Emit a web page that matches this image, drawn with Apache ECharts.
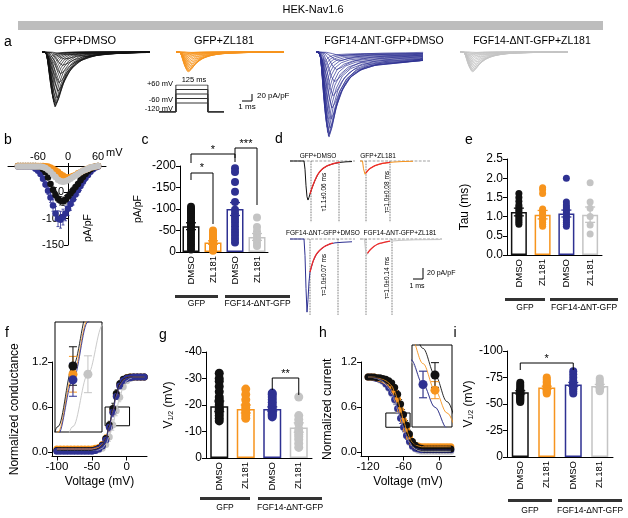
<!DOCTYPE html>
<html><head><meta charset="utf-8">
<script src="https://cdn.jsdelivr.net/npm/echarts@6/dist/echarts.min.js"></script>
<style>html,body{margin:0;padding:0;background:#fff}#c{width:628px;height:518px}</style>
</head><body><div id="c"></div>
<script>
// ================= DATA =================
const title = 'HEK-Nav1.6';
const groupLabels = ['GFP', 'FGF14-ΔNT-GFP'];
const catLabels = ['DMSO', 'ZL181', 'DMSO', 'ZL181'];
const catIds = ['c1', 'c2', 'c3', 'c4'];
const traceLabels = ['GFP+DMSO', 'GFP+ZL181', 'FGF14-ΔNT-GFP+DMSO', 'FGF14-ΔNT-GFP+ZL181'];

// a: sweep families (normalized template, per-sweep peaks and time-to-peak)
const sweepTemplateT = [0, 0.35, 0.6, 0.8, 1.0, 1.25, 1.6, 2.1, 2.8, 3.8, 5.2, 7.5, 11];
const sweepTemplateV = [0, 0.08, 0.4, 0.8, 1.0, 0.88, 0.62, 0.38, 0.2, 0.09, 0.04, 0.015, 0.005];
const sweepTemplatePersistV = [0, 0.1, 0.45, 0.82, 1.0, 0.9, 0.68, 0.48, 0.32, 0.22, 0.16, 0.13, 0.11];
const sweepTimeToPeak = [2.3, 2.0, 1.8, 1.6, 1.45, 1.35, 1.25, 1.17, 1.1, 1.05, 1.0, 0.92, 0.85, 0.78, 0.72, 0.66, 0.6, 0.55, 0.5, 0.46, 0.42, 0.38];
const blackSweepPeaks = [-8, -20, -38, -62, -88, -112, -132, -147, -155, -157, -152, -143, -132, -120, -107, -94, -81, -68, -56, -45, -35, -26];
const orangeSweepPeaks = [-3, -7, -13, -20, -27, -34, -41, -47, -52, -55, -57, -56, -53, -49, -45, -40, -35, -30, -25, -20, -15, -11];
const blueSweepPeaks = [-10, -25, -50, -85, -125, -160, -192, -218, -235, -243, -240, -230, -215, -198, -180, -160, -140, -120, -100, -80, -62, -45];
const greySweepPeaks = [-3, -8, -14, -21, -28, -35, -42, -48, -53, -56, -57, -55, -52, -48, -44, -40, -35, -30, -25, -20, -16, -12];
const blueTailFrac = 0.1;

// a: voltage protocol
const protoLevels = [60, 30, 0, -30, -60];
const protoHold = -120;
const protoTimes = [0, 66, 191, 254];

// b: I-V
const ivVoltage = [-100,-95,-90,-85,-80,-75,-70,-65,-60,-55,-50,-45,-40,-35,-30,-25,-20,-15,-10,-5,0,5,10,15,20,25,30,35,40,45,50,55,60];
const ivBlack = [0,0,0,0,0,0,0,0,-1,-2,-6,-12,-22,-34,-45,-55,-62,-66,-67,-64,-58,-52,-46,-40,-34,-27,-21,-15,-10,-6,-3,-1,0];
const ivOrange = [0,0,0,0,0,0,0,0,0,0,0,-0.5,-1,-3,-5,-8,-11,-15,-18,-21,-22,-21,-19,-17,-14,-12,-9,-7,-5,-3,-2,-1,0];
const ivBlue = [-1,-1,-1,-1,-1,-1,-2,-5,-9,-15,-24,-35,-47,-60,-75,-90,-100,-102,-97,-90,-81,-72,-63,-54,-46,-38,-30,-23,-17,-11,-6,-3,-1];
const ivGrey = [-1,-1,-1,-1,-1,-1,-1,-1,-1,-1,-2,-4,-7,-11,-16,-21,-26,-29,-30,-29,-27,-24,-21,-18,-15,-12,-9,-7,-5,-3,-2,-1,0];
const ivBlackSem = [0.5,0.5,0.5,0.5,0.5,0.5,0.5,0.5,0.5,0.5,1,2,3,4,5,6,7,8,8,8,7,7,6,5,5,4,3,2,2,1,1,0.5,0.5];
const ivOrangeSem = [0,0,0,0,0,0,0,0,0,0,0,0,0.5,1,1,1.5,2,2.5,3,3,3,3,3,3,2.5,2,2,1.5,1,1,0.5,0.5,0];
const ivBlueSem = [0.5,0.5,0.5,0.5,0.5,0.5,1,1,2,3,4,5,7,9,11,13,15,16,15,14,13,12,11,10,9,8,7,6,5,4,3,2,1];
const ivGreySem = [0.5,0.5,0.5,0.5,0.5,0.5,0.5,0.5,0.5,0.5,0.5,1,1.5,2,3,3.5,4,4,4,4,4,3.5,3,3,2.5,2,2,1.5,1,1,0.5,0.5,0];

// c: peak current density (pA/pF)
const cPoints = [
  [-105,-100,-97,-95,-92,-90,-85,-80,-75,-72,-68,-63,-58,-52,-47,-42,-36,-30,-24,-18,-12,-6],
  [-50,-45,-40,-36,-32,-28,-25,-22,-19,-16,-13,-10,-8,-5,-3],
  [-195,-186,-163,-140,-116,-98,-90,-82,-75,-68,-60,-52,-45,-38,-30,-22],
  [-80,-58,-48,-40,-33,-27,-20,-14]
];
const cMeans = [-60, -22, -100, -35];
const cSems = [8, 4, 15, 8];

// d: representative traces with fits
const dTraceGfpDmso = [[0,0],[1.4,0],[1.5,-15],[1.6,-45],[1.7,-65],[1.8,-71],[1.9,-66],[2.0,-60],[2.2,-49],[2.5,-35],[2.8,-24],[3.2,-15],[3.7,-9],[4.3,-5],[5,-2.5],[5.6,-1.5],[6.2,-1]];
const dFitGfpDmso = [[2.0,-60],[2.2,-49],[2.5,-35],[2.8,-24],[3.2,-15],[3.7,-9],[4.3,-5],[5.0,-2.5]];
const dTraceGfpZl = [[0,0],[0.25,0],[0.35,-14],[0.5,-24],[0.6,-22],[0.8,-17],[1.1,-12.5],[1.5,-8.5],[2.0,-5.5],[2.6,-3.5],[3.3,-2],[4.2,-1],[5.3,-0.5]];
const dFitGfpZl = [[0.6,-22],[0.8,-17],[1.1,-12.5],[1.5,-8.5],[2.0,-5.5],[2.6,-3.5],[3.0,-2.6]];
const dTraceFgfDmso = [[0,0],[1.4,0],[1.5,-30],[1.6,-90],[1.7,-133],[1.8,-110],[1.9,-78],[2.0,-60],[2.3,-41],[2.6,-29],[3.0,-20],[3.5,-13],[4.0,-9],[4.5,-7],[5.2,-6],[6.2,-5]];
const dFitFgfDmso = [[2.0,-60],[2.3,-41],[2.6,-29],[3.0,-20],[3.5,-13],[4.0,-9],[4.3,-7.5]];
const dTraceFgfZl = [[0,0],[0.45,0],[0.55,-20],[0.65,-29],[0.75,-26],[1.0,-20],[1.3,-15],[1.7,-10],[2.2,-7],[3.0,-4],[4,-2.5],[5.5,-1.5],[8,-1]];
const dFitFgfZl = [[0.75,-26],[1.0,-20],[1.3,-15],[1.7,-10],[2.2,-7],[3.0,-4]];
const dFitWindows = [[2.1, 4.9], [0.6, 3.0], [2.0, 4.8], [0.6, 3.2]];
const tauLabels = ['τ1.1±0.06 ms', 'τ=1.0±0.08 ms', 'τ=1.0±0.07 ms', 'τ=1.0±0.14 ms'];

// e: tau (ms)
const ePoints = [
  [1.6,1.5,1.4,1.3,1.25,1.2,1.15,1.1,1.05,1.0,0.95,0.9,0.85,0.8],
  [1.75,1.7,1.6,1.2,1.15,1.1,1.05,1.0,0.95,0.9,0.85,0.8,0.75],
  [2.0,1.38,1.3,1.25,1.2,1.15,1.1,1.05,1.0,0.95,0.9,0.85,0.8,0.75],
  [1.88,1.38,1.22,1.0,0.78,0.55]
];
const eMeans = [1.12, 1.05, 1.08, 1.05];
const eSems = [0.1, 0.11, 0.09, 0.2];

// f: conductance-voltage
const gvVoltage = [-100,-95,-90,-85,-80,-75,-70,-65,-60,-55,-50,-45,-40,-35,-30,-25,-20,-15,-10,-5,0,5,10,15,20,25];
const gvBlack = [0.02,0.02,0.02,0.02,0.02,0.02,0.02,0.02,0.02,0.02,0.02,0.03,0.05,0.09,0.18,0.36,0.58,0.78,0.91,0.97,0.99,1,1,1,1,1];
const gvOrange = [0.04,0.04,0.04,0.04,0.04,0.04,0.04,0.04,0.04,0.04,0.04,0.05,0.06,0.1,0.18,0.34,0.55,0.75,0.89,0.96,0.99,1,1,1,1,1];
const gvBlue = [0.01,0.01,0.01,0.01,0.01,0.01,0.01,0.01,0.01,0.01,0.01,0.02,0.04,0.08,0.16,0.33,0.53,0.74,0.88,0.95,0.98,0.99,1,1,1,1];
const gvGrey = [0.02,0.02,0.02,0.02,0.02,0.02,0.02,0.02,0.02,0.02,0.02,0.02,0.03,0.05,0.1,0.2,0.36,0.55,0.73,0.87,0.95,0.98,1,1,1,1];
const gvBlackSem = [0.01,0.01,0.01,0.01,0.01,0.01,0.01,0.01,0.01,0.01,0.01,0.01,0.02,0.03,0.04,0.05,0.07,0.05,0.04,0.03,0.02,0.01,0.01,0.01,0.01,0.01];
const gvOrangeSem = [0.015,0.015,0.015,0.015,0.015,0.015,0.015,0.015,0.015,0.015,0.015,0.02,0.02,0.03,0.05,0.06,0.065,0.05,0.04,0.03,0.02,0.01,0.01,0.01,0.01,0.01];
const gvBlueSem = [0.01,0.01,0.01,0.01,0.01,0.01,0.01,0.01,0.01,0.01,0.01,0.01,0.02,0.03,0.04,0.05,0.06,0.04,0.03,0.02,0.01,0.01,0.01,0.01,0.01,0.01];
const gvGreySem = [0.015,0.015,0.015,0.015,0.015,0.015,0.015,0.015,0.015,0.015,0.015,0.015,0.02,0.03,0.04,0.06,0.07,0.067,0.06,0.04,0.03,0.02,0.01,0.01,0.01,0.01];

// g: activation V1/2 (mV)
const gPoints = [
  [-32,-30,-29,-27,-25,-23,-22,-21,-20,-19,-18.5,-18,-17,-16,-15,-14],
  [-26,-24,-22,-20,-19,-18,-17,-16,-15],
  [-24.5,-24,-23,-22,-21,-20,-19,-18,-17.5,-17,-16.5,-16,-15.5],
  [-23,-16,-14.5,-13,-11,-10,-9,-8,-7,-5.5,-4]
];
const gMeans = [-19.5, -18.5, -18.5, -11.5];
const gSems = [2, 1.5, 0.8, 1.8];

// h: steady-state inactivation
const ssiVoltage = [-120,-115,-110,-105,-100,-95,-90,-85,-80,-75,-70,-65,-60,-55,-50,-45,-40,-35,-30,-25,-20,-15,-10,-5,0,5,10,15,20];
const ssiBlack = [1,1,1,0.99,0.99,0.98,0.97,0.95,0.92,0.86,0.77,0.64,0.5,0.36,0.24,0.14,0.09,0.06,0.05,0.04,0.04,0.04,0.04,0.04,0.04,0.04,0.04,0.04,0.04];
const ssiOrange = [1,1,1,0.99,0.98,0.97,0.95,0.92,0.88,0.8,0.7,0.56,0.42,0.3,0.2,0.13,0.09,0.08,0.07,0.07,0.07,0.07,0.07,0.07,0.07,0.07,0.07,0.07,0.07];
const ssiBlue = [1,1,0.99,0.98,0.97,0.95,0.91,0.86,0.79,0.7,0.58,0.45,0.33,0.22,0.14,0.08,0.05,0.04,0.03,0.03,0.03,0.03,0.03,0.03,0.03,0.03,0.03,0.03,0.03];
const ssiGrey = [1,1,0.99,0.98,0.96,0.94,0.9,0.85,0.78,0.69,0.57,0.45,0.33,0.22,0.13,0.07,0.04,0.02,0.01,0.01,0.01,0.01,0.01,0.01,0.01,0.01,0.01,0.01,0.01];
const ssiBlackSem = [0.01,0.01,0.01,0.01,0.01,0.01,0.02,0.02,0.03,0.04,0.05,0.06,0.065,0.06,0.05,0.04,0.03,0.02,0.02,0.02,0.02,0.02,0.02,0.02,0.02,0.02,0.02,0.02,0.02];
const ssiOrangeSem = [0.01,0.01,0.01,0.01,0.01,0.02,0.02,0.03,0.03,0.04,0.05,0.05,0.045,0.04,0.04,0.03,0.02,0.02,0.02,0.02,0.02,0.02,0.02,0.02,0.02,0.02,0.02,0.02,0.02];
const ssiBlueSem = [0.01,0.01,0.01,0.02,0.02,0.03,0.03,0.04,0.05,0.06,0.06,0.07,0.06,0.05,0.04,0.03,0.02,0.02,0.02,0.02,0.02,0.02,0.02,0.02,0.02,0.02,0.02,0.02,0.02];
const ssiGreySem = [0.01,0.01,0.01,0.02,0.02,0.03,0.03,0.04,0.05,0.06,0.06,0.07,0.06,0.05,0.04,0.03,0.02,0.02,0.01,0.01,0.01,0.01,0.01,0.01,0.01,0.01,0.01,0.01,0.01];

// i: inactivation V1/2 (mV)
const iPoints = [
  [-70,-68,-66,-64,-63,-62,-61,-60,-59,-58,-57,-56,-55,-54,-53,-52],
  [-75,-73,-71,-70,-68,-67,-66,-65,-64,-63,-62,-61,-60],
  [-81,-78,-75,-72,-70,-69,-68,-67,-66,-65,-64,-62,-60],
  [-74,-72,-70,-68,-66,-65,-64,-63,-62]
];
const iMeans = [-61, -65.5, -68.5, -67];
const iSems = [1.5, 1.3, 1.8, 1.5];

// ================= STYLE / BUILD =================
const FONT = "'Liberation Sans', Arial, Helvetica, sans-serif";
const COL = {black: '#111111', orange: '#F7941D', blue: '#2E3192', grey: '#C4C4C4', red: '#EE2A2A'};
const COLS = [COL.black, COL.orange, COL.blue, COL.grey];

const grids = [], xAxes = [], yAxes = [], series = [];

function setGrid(gi, l, t, w, h, extra) {
  grids[gi] = Object.assign({left: l, top: t, width: w, height: h, containLabel: false, outerBoundsMode: 'none'}, extra || {});
}
function hiddenAxes(gi, xmin, xmax, ymin, ymax) {
  xAxes[gi] = {type: 'value', gridIndex: gi, min: xmin, max: xmax, show: false};
  yAxes[gi] = {type: 'value', gridIndex: gi, min: ymin, max: ymax, show: false};
}
const axLine = {show: true, onZero: false, lineStyle: {color: '#000', width: 1}};
const axTick = {show: true, length: 4, inside: false, lineStyle: {color: '#000', width: 1}};

function errSeries(gi, data, colors, capW, lw, z, clip) {
  return {
    type: 'custom', xAxisIndex: gi, yAxisIndex: gi, z: z, silent: true, clip: !!clip,
    encode: {x: 0, y: 1},
    renderItem: function (params, api) {
      const x = api.value(0), y = api.value(1), e = api.value(2), c = colors[api.value(3)];
      const a = api.coord([x, y - e]), b = api.coord([x, y + e]);
      const st = {stroke: c, lineWidth: lw};
      return {type: 'group', children: [
        {type: 'line', shape: {x1: a[0], y1: a[1], x2: b[0], y2: b[1]}, style: st},
        {type: 'line', shape: {x1: a[0] - capW, y1: a[1], x2: a[0] + capW, y2: a[1]}, style: st},
        {type: 'line', shape: {x1: b[0] - capW, y1: b[1], x2: b[0] + capW, y2: b[1]}, style: st}
      ]};
    },
    data: data
  };
}

// ---- a: sweep families ----
function buildSweeps(peaks, tmplV, tailFrac, delay, tEnd) {
  return peaks.map(function (a, k) {
    const pts = [[0, 0]];
    for (let i = 0; i < sweepTemplateT.length; i++) {
      const t = delay + sweepTemplateT[i] * sweepTimeToPeak[k];
      if (t < tEnd) pts.push([t, a * tmplV[i]]);
    }
    pts.push([tEnd, a * tailFrac]);
    return {coords: pts};
  });
}
const aRects = [[42, 108], [176, 108], [316, 107], [460, 108]];
const aFamilies = [
  buildSweeps(blackSweepPeaks, sweepTemplateV, 0, 0.25, 10.8),
  buildSweeps(orangeSweepPeaks, sweepTemplateV, 0, 0.25, 10.8),
  buildSweeps(blueSweepPeaks, sweepTemplatePersistV, blueTailFrac, 0.25, 10.7),
  buildSweeps(greySweepPeaks, sweepTemplateV, 0, 0.25, 10.8)
];
aRects.forEach(function (r, k) {
  setGrid(k, r[0], 47.8, r[1], 91.7);
  hiddenAxes(k, 0, r[1] / 10, -250, 12);
  series.push({type: 'lines', coordinateSystem: 'cartesian2d', xAxisIndex: k, yAxisIndex: k, polyline: true,
    silent: true, lineStyle: {color: COLS[k], width: 0.7, opacity: 1, curveness: 0}, data: aFamilies[k]});
});

// ---- a: protocol (grid 4) ----
setGrid(4, 159, 85, 65, 27);
hiddenAxes(4, protoTimes[0], protoTimes[3], protoHold, 60);
series.push({type: 'lines', coordinateSystem: 'cartesian2d', xAxisIndex: 4, yAxisIndex: 4, polyline: true, silent: true,
  lineStyle: {color: '#333', width: 1, opacity: 1},
  data: protoLevels.map(function (v) {
    return {coords: [[protoTimes[0], protoHold], [protoTimes[1], protoHold], [protoTimes[1], v], [protoTimes[2], v], [protoTimes[2], protoHold], [protoTimes[3], protoHold]]};
  })});

// ---- b: I-V (grid 5) ----
setGrid(5, 8, 166, 98, 79);
xAxes[5] = {type: 'value', gridIndex: 5, min: -120, max: 76, position: 'top',
  axisLine: {show: true, onZero: false, lineStyle: {color: '#000', width: 1}},
  axisTick: {show: true, length: 3, customValues: [-60, 0, 60], lineStyle: {color: '#000'}},
  axisLabel: {customValues: [-60, 0, 60], fontSize: 11, color: '#000', fontFamily: FONT, margin: 4},
  splitLine: {show: false}};
yAxes[5] = {type: 'value', gridIndex: 5, min: -150, max: 0, interval: 50, offset: -60,
  axisLine: {show: true, onZero: false, lineStyle: {color: '#000', width: 1}},
  axisTick: {show: true, length: 4, lineStyle: {color: '#000'}},
  axisLabel: {fontSize: 11, color: '#000', fontFamily: FONT, margin: 4, formatter: function (v) { return v === 0 ? '' : String(v); }},
  splitLine: {show: false}};
[[ivBlue, ivBlueSem, COL.blue], [ivBlack, ivBlackSem, COL.black], [ivOrange, ivOrangeSem, COL.orange], [ivGrey, ivGreySem, COL.grey]].forEach(function (s, k) {
  series.push(errSeries(5, ivVoltage.map(function (v, i) { return [v, s[0][i], s[1][i], 0]; }), [s[2]], 1.5, 0.8, 2 + k * 2));
  series.push({type: 'scatter', xAxisIndex: 5, yAxisIndex: 5, symbolSize: 6.5, z: 3 + k * 2, silent: true,
    itemStyle: {color: s[2], opacity: 1}, data: ivVoltage.map(function (v, i) { return [v, s[0][i]]; })});
});

// ---- bar panels ----
function barPanel(gi, l, t, w, h, cfg) {
  setGrid(gi, l, t, w, h);
  xAxes[gi] = {type: 'category', gridIndex: gi, data: catIds, axisLine: axLine, axisTick: {show: false},
    axisLabel: {interval: 0, rotate: 90, fontSize: 9.5, margin: 4, color: '#000', fontFamily: FONT,
      formatter: function (v, i) { return catLabels[i]; }}, splitLine: {show: false}};
  yAxes[gi] = {type: 'value', gridIndex: gi, min: cfg.min, max: cfg.max, interval: cfg.interval, inverse: !!cfg.inverse,
    name: cfg.name, nameLocation: 'middle', nameGap: cfg.nameGap, nameRotate: 90, nameMoveOverlap: false,
    nameTextStyle: {fontSize: cfg.nameSize, color: '#000', fontFamily: FONT, rich: {sub: {fontSize: 7, fontFamily: FONT, color: '#000', padding: [6, 0, 0, 0]}}},
    axisLine: axLine, axisTick: axTick,
    axisLabel: {fontSize: cfg.fs, color: '#000', fontFamily: FONT, margin: 4, formatter: cfg.fmt},
    splitLine: {show: false}};
  cfg.points.forEach(function (arr, i) {
    series.push({type: 'scatter', xAxisIndex: gi, yAxisIndex: gi, symbolSize: cfg.sym, z: 2, silent: true,
      itemStyle: {color: COLS[i], opacity: 1}, data: arr.map(function (v) { return [i, v]; })});
  });
  series.push({type: 'bar', xAxisIndex: gi, yAxisIndex: gi, barWidth: cfg.barW, z: 3, silent: true,
    data: cfg.means.map(function (m, i) { return {value: m, itemStyle: {color: 'rgba(255,255,255,0)', borderColor: COLS[i], borderWidth: 1.5}}; })});
  series.push(errSeries(gi, cfg.means.map(function (m, i) { return [i, m, cfg.sems[i], i]; }), COLS, 5, 1.3, 4));
}
barPanel(6, 180, 166, 88, 86, {min: -200, max: 0, interval: 50, inverse: true, name: 'pA/pF', nameGap: 36, nameSize: 10.5, fs: 12,
  points: cPoints, means: cMeans, sems: cSems, sym: 8, barW: 17});
barPanel(11, 507, 159, 95, 96, {min: 0, max: 2.5, interval: 0.5, name: 'Tau (ms)', nameGap: 36, nameSize: 12, fs: 12,
  fmt: function (v) { return v.toFixed(1); }, points: ePoints, means: eMeans, sems: eSems, sym: 7, barW: 16});
barPanel(14, 206, 352, 106, 106, {min: -40, max: 0, interval: 10, inverse: true, name: 'V{sub|1/2} (mV)', nameGap: 31, nameSize: 12, fs: 12,
  points: gPoints, means: gMeans, sems: gSems, sym: 9, barW: 18});
barPanel(17, 507, 351, 106, 106, {min: -100, max: 0, interval: 25, inverse: true, name: 'V{sub|1/2} (mV)', nameGap: 32, nameSize: 12, fs: 12,
  points: iPoints, means: iMeans, sems: iSems, sym: 8, barW: 17});

// ---- d: traces (grids 7-10) ----
const dRects = [[290, 157.7, 65], [360, 157.7, 70], [290, 235.7, 65], [360, 235.7, 82]];
const dTraces = [dTraceGfpDmso, dTraceGfpZl, dTraceFgfDmso, dTraceFgfZl];
const dFits = [dFitGfpDmso, dFitGfpZl, dFitFgfDmso, dFitFgfZl];
const dDotDepth = [-111, -111, -138, -138];
dRects.forEach(function (r, k) {
  const gi = 7 + k, xmax = r[2] / 10;
  setGrid(gi, r[0], r[1], r[2], 80.3);
  hiddenAxes(gi, 0, xmax, -140, 6);
  series.push({type: 'line', xAxisIndex: gi, yAxisIndex: gi, showSymbol: false, silent: true, clip: false, z: 1,
    lineStyle: {color: '#777', width: 0.7, type: 'dashed'}, data: [[0, 0], [xmax, 0]]});
  dFitWindows[k].forEach(function (tw) {
    series.push({type: 'line', xAxisIndex: gi, yAxisIndex: gi, showSymbol: false, silent: true, clip: false, z: 1,
      lineStyle: {color: '#333', width: 0.8, type: 'dotted'}, data: [[tw, 0], [tw, dDotDepth[k]]]});
  });
  series.push({type: 'line', xAxisIndex: gi, yAxisIndex: gi, showSymbol: false, silent: true, clip: false, z: 2,
    lineStyle: {color: COLS[k], width: 1}, data: dTraces[k]});
  series.push({type: 'line', xAxisIndex: gi, yAxisIndex: gi, showSymbol: false, silent: true, clip: false, z: 3, smooth: true,
    lineStyle: {color: COL.red, width: 1.3}, data: dFits[k]});
});

// ---- f / h: curve panels with insets ----
function curvePanel(gi, l, t, w, h, cfg) {
  setGrid(gi, l, t, w, h);
  xAxes[gi] = {type: 'value', gridIndex: gi, min: cfg.xmin, max: cfg.xmax,
    name: 'Voltage (mV)', nameLocation: 'middle', nameGap: 19, nameMoveOverlap: false,
    nameTextStyle: {fontSize: 12, color: '#000', fontFamily: FONT},
    axisLine: axLine, axisTick: Object.assign({customValues: cfg.xticks}, axTick),
    axisLabel: {customValues: cfg.xticks, fontSize: 11.5, color: '#000', fontFamily: FONT, margin: 4}, splitLine: {show: false}};
  yAxes[gi] = {type: 'value', gridIndex: gi, min: -0.06, max: 1.2,
    name: cfg.name, nameLocation: 'middle', nameGap: cfg.nameGap, nameRotate: 90, nameMoveOverlap: false,
    nameTextStyle: {fontSize: 12, color: '#000', fontFamily: FONT},
    axisLine: axLine, axisTick: Object.assign({customValues: [0, 0.6, 1.2]}, axTick),
    axisLabel: {customValues: [0, 0.6, 1.2], fontSize: 11.5, color: '#000', fontFamily: FONT, margin: 4,
      formatter: function (v) { return v.toFixed(1); }}, splitLine: {show: false}};
  cfg.sets.forEach(function (s) {
    series.push(errSeries(gi, cfg.v.map(function (v, i) { return [v, s[0][i], s[1][i], 0]; }), [s[2]], 1.5, 0.8, 2));
    series.push({type: 'scatter', xAxisIndex: gi, yAxisIndex: gi, symbolSize: 7, z: 3, silent: true,
      itemStyle: {color: s[2], opacity: 1}, data: cfg.v.map(function (v, i) { return [v, s[0][i]]; })});
  });
  cfg.sets.forEach(function (s, k) {
    const ser = {type: 'line', xAxisIndex: gi, yAxisIndex: gi, showSymbol: false, silent: true, smooth: 0.35, smoothMonotone: 'x', z: 5,
      lineStyle: {color: s[2], width: 0.9}, data: cfg.v.map(function (v, i) { return [v, s[0][i]]; })};
    if (k === cfg.sets.length - 1) {
      ser.markArea = {silent: true, itemStyle: {color: 'rgba(0,0,0,0)', borderColor: '#000', borderWidth: 1},
        data: [[{xAxis: cfg.box[0], yAxis: cfg.box[1]}, {xAxis: cfg.box[2], yAxis: cfg.box[3]}]]};
    }
    series.push(ser);
  });
  // inset
  const ii = cfg.inset;
  grids[gi + 1] = {left: ii.l, top: ii.t, width: ii.w, height: ii.h, show: true, borderColor: '#000', borderWidth: 1,
    backgroundColor: '#fff', containLabel: false, outerBoundsMode: 'none'};
  hiddenAxes(gi + 1, ii.x[0], ii.x[1], ii.y[0], ii.y[1]);
  cfg.sets.forEach(function (s) {
    series.push({type: 'line', xAxisIndex: gi + 1, yAxisIndex: gi + 1, showSymbol: false, silent: true, smooth: 0.35, smoothMonotone: 'x', clip: true, z: 5,
      lineStyle: {color: s[2], width: 0.9}, data: cfg.v.map(function (v, i) { return [v, s[0][i]]; })});
  });
  cfg.sets.forEach(function (s) {
    const idx = cfg.v.indexOf(s[3]);
    series.push(errSeries(gi + 1, [[cfg.v[idx], s[0][idx], s[1][idx], 0]], [s[2]], 4, 1, 6, true));
    series.push({type: 'scatter', xAxisIndex: gi + 1, yAxisIndex: gi + 1, symbolSize: 9, z: 7, silent: true, clip: true,
      itemStyle: {color: s[2], opacity: 1}, data: [[cfg.v[idx], s[0][idx]]]});
  });
}
// set: [values, sem, colour, voltage of the point shown in the inset]
curvePanel(12, 52, 362, 95, 94.5, {xmin: -107, xmax: 29, xticks: [-100, -50, 0], name: 'Normalized conductance', nameGap: 31,
  v: gvVoltage, box: [-31, 0.35, 4, 0.6],
  sets: [[gvGrey, gvGreySem, COL.grey, -15], [gvOrange, gvOrangeSem, COL.orange, -20], [gvBlack, gvBlackSem, COL.black, -20], [gvBlue, gvBlueSem, COL.blue, -20]],
  inset: {l: 55, t: 322, w: 47, h: 110, x: [-26, -10.3], y: [0.34, 0.74]}});
curvePanel(15, 361, 362, 94, 94.5, {xmin: -132, xmax: 27, xticks: [-120, -60, 0], name: 'Normalized current', nameGap: 27,
  v: ssiVoltage, box: [-90, 0.33, -49, 0.52],
  sets: [[ssiGrey, ssiGreySem, COL.grey, -65], [ssiBlue, ssiBlueSem, COL.blue, -65], [ssiOrange, ssiOrangeSem, COL.orange, -60], [ssiBlack, ssiBlackSem, COL.black, -60]],
  inset: {l: 412, t: 345, w: 40, h: 82, x: [-69.6, -52.9], y: [0.226, 0.658]}});

// ================= RENDER =================
const chart = echarts.init(document.getElementById('c'), null, {renderer: 'canvas', width: 628, height: 518});
chart.setOption({animation: false, backgroundColor: '#fff', grid: grids, xAxis: xAxes, yAxis: yAxes, series: series});

function txt(x, y, s, size, opt) {
  return Object.assign({type: 'text', x: x, y: y, z: 50, silent: true,
    style: {text: s, fontSize: size, fontFamily: FONT, fill: '#000', align: 'center', verticalAlign: 'middle'}}, opt || {});
}
function txtAl(x, y, s, size, align) {
  return {type: 'text', x: x, y: y, z: 50, silent: true, style: {text: s, fontSize: size, fontFamily: FONT, fill: '#000', align: align, verticalAlign: 'middle'}};
}
function ln(pts, w, color) {
  return {type: 'polyline', z: 50, silent: true, shape: {points: pts}, style: {stroke: color || '#000', lineWidth: w || 1, fill: null}};
}
function bar(x1, x2, y) {
  return {type: 'rect', z: 50, silent: true, shape: {x: x1, y: y, width: x2 - x1, height: 3}, style: {fill: '#333'}};
}
function cx(gi, i) { return chart.convertToPixel({gridIndex: gi}, [i, 0])[0]; }
function bracket(gi, i1, i2, yTop, yL, yR, label, yLabel) {
  const x1 = cx(gi, i1), x2 = cx(gi, i2);
  return [ln([[x1, yL], [x1, yTop], [x2, yTop], [x2, yR]], 1), txt((x1 + x2) / 2, yLabel, label, 11)];
}

const G = [];
G.push(txt(313, 10, title, 11));
G.push({type: 'rect', z: 40, silent: true, shape: {x: 18, y: 21, width: 585, height: 9}, style: {fill: '#BDBDBD'}});
[['a', 8, 42], ['b', 8, 140], ['c', 145, 140], ['d', 279, 139], ['e', 469, 140], ['f', 7, 333], ['g', 163, 335], ['h', 323, 333], ['i', 455, 333]]
  .forEach(function (p) { G.push(txt(p[1], p[2], p[0], 14)); });
[85, 224, 384, 532].forEach(function (x, k) { G.push(txt(x, 41, traceLabels[k], k < 2 ? 11 : 10.5)); });
G.push(txtAl(173, 84, '+60 mV', 7.5, 'right'));
G.push(txtAl(173, 100, '-60 mV', 7.5, 'right'));
G.push(txtAl(173, 108.5, '-120 mV', 7.5, 'right'));
G.push(txt(194, 80, '125 ms', 7.5));
G.push(ln([[252, 94], [252, 101], [242, 101]], 1));
G.push(txtAl(257, 96, '20 pA/pF', 8, 'left'));
G.push(txt(247, 107, '1 ms', 8));
G.push(txtAl(106, 153, 'mV', 11, 'left'));
G.push(txt(88, 228, 'pA/pF', 10.5, {rotation: Math.PI / 2}));
G.push(txt(318, 156, traceLabels[0], 6.5));
G.push(txt(378, 156, traceLabels[1], 6.5));
G.push(txt(323, 233, traceLabels[2], 6.5));
G.push(txt(400, 233, traceLabels[3], 6.5));
[[324, 192], [387, 192], [324, 275], [387, 278]].forEach(function (p, k) {
  G.push(txt(p[0], p[1], tauLabels[k], 6.5, {rotation: Math.PI / 2}));
});
G.push(ln([[423, 268], [423, 279], [413, 279]], 1));
G.push(txtAl(427, 273, '20 pA/pF', 7, 'left'));
G.push(txt(417, 286, '1 ms', 7));
[[6, 175, 218, 225, 290, 295, 304], [11, 505, 545, 550, 618, 298, 308], [14, 200, 250, 258, 322, 497, 508], [17, 508, 552, 558, 622, 499, 511]]
  .forEach(function (g) {
    G.push(bar(g[1], g[2], g[5]));
    G.push(bar(g[3], g[4], g[5]));
    G.push(txt((g[1] + g[2]) / 2, g[6], groupLabels[0], 8.5));
    G.push(txt((g[3] + g[4]) / 2, g[6], groupLabels[1], 8.5));
  });
Array.prototype.push.apply(G, bracket(6, 0, 1, 173, 180, 224, '*', 168));
Array.prototype.push.apply(G, bracket(6, 0, 2, 154, 163, 162, '*', 150));
Array.prototype.push.apply(G, bracket(6, 2, 3, 148, 158, 205, '***', 144));
Array.prototype.push.apply(G, bracket(14, 2, 3, 378, 390, 395, '**', 374));
Array.prototype.push.apply(G, bracket(17, 0, 2, 363, 370, 370, '*', 359));

chart.setOption({graphic: G});
</script>
</body></html>
